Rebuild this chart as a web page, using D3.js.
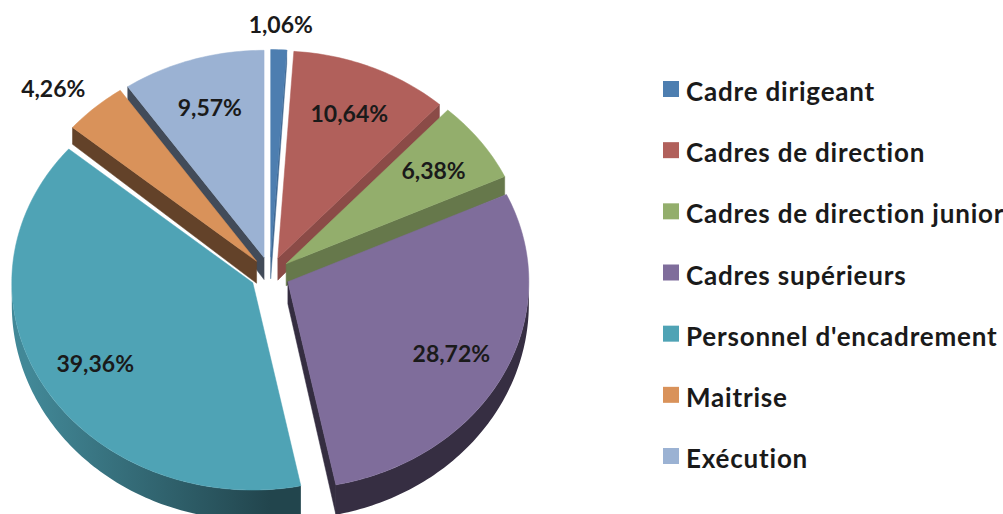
<!DOCTYPE html>
<html>
<head>
<meta charset="utf-8">
<script src="https://cdn.jsdelivr.net/npm/d3@7"></script>
<style>
  body { margin: 0; background: #fff; }
  svg text { font-family: Lato, "Open Sans", sans-serif; font-weight: bold; }
</style>
</head>
<body>
<svg id="chart" width="1003" height="514"></svg>
<script>
// Données
const categories = ["Cadre dirigeant", "Cadres de direction", "Cadres de direction junior",
  "Cadres supérieurs", "Personnel d'encadrement", "Maitrise", "Exécution"];
const values = [1.06, 10.64, 6.38, 28.72, 39.36, 4.26, 9.57];
const colors = ["#4D7EB0", "#B1605B", "#93AE6C", "#7F6D9B", "#4FA3B5", "#D9925A", "#9BB2D3"];

const fr = d3.formatLocale({ decimal: ",", thousands: " ", grouping: [3], currency: ["", "€"] });
const pct = v => fr.format(".2f")(v) + "%";

const svg = d3.select("#chart");
const defs = svg.append("defs");

// Géométrie du camembert 3D
const cx = 270, cy = 274, R = 241, k = 0.86, explode = 20, d0 = 22, d1 = 8;

function pt(a, r, off, z) {
  return [cx + off[0] + r * Math.sin(a),
          cy + off[1] - r * k * Math.cos(a) + z * (d0 - d1 * r * Math.cos(a) / R)];
}
function arcPts(a0, a1, off, z) {
  const n = Math.max(2, Math.ceil((a1 - a0) / (Math.PI / 180)));
  return d3.range(n + 1).map(i => pt(a0 + (a1 - a0) * i / n, R, off, z));
}
const line = d3.line();

const arcs = d3.pie().sort(null).value(d => d.value)
  (categories.map((c, i) => ({ name: c, value: values[i], color: colors[i] })));

arcs.forEach((d, i) => {
  d.mid = (d.startAngle + d.endAngle) / 2;
  d.off = [explode * Math.sin(d.mid), -explode * k * Math.cos(d.mid)];
  d.i = i;
});

// de l'arrière vers l'avant
const order = arcs.slice().sort((a, b) => -Math.cos(a.mid) + Math.cos(b.mid));

const g = svg.append("g");

function face(d, a) {
  return [pt(a, 0, d.off, 0), pt(a, R, d.off, 0), pt(a, R, d.off, 1), pt(a, 0, d.off, 1)];
}

order.forEach(d => {
  const base = d3.color(d.data.color);
  const a0 = d.startAngle, a1 = d.endAngle;

  // face radiale de début
  if (Math.sin(a0) < -1e-6) {
    const nx = -Math.cos(a0);
    const dk = Math.max(0.5, Math.min(2.5, 1.5 - 1.1 * nx));
    g.append("path").attr("d", line(face(d, a0)) + "Z")
      .attr("fill", base.darker(dk)).attr("stroke", base.darker(dk)).attr("stroke-width", 0.5);
  }
  // face radiale de fin
  if (Math.sin(a1) > 1e-6) {
    const nx = Math.cos(a1);
    const dk = Math.max(0.5, Math.min(2.5, 1.5 - 1.1 * nx));
    g.append("path").attr("d", line(face(d, a1)) + "Z")
      .attr("fill", base.darker(dk)).attr("stroke", base.darker(dk)).attr("stroke-width", 0.5);
  }
  // paroi extérieure
  const w0 = Math.max(a0, Math.PI / 2), w1 = Math.min(a1, 3 * Math.PI / 2);
  if (w1 > w0) {
    const gid = "wall" + d.i;
    const lg = defs.append("linearGradient").attr("id", gid)
      .attr("gradientUnits", "userSpaceOnUse")
      .attr("x1", cx - R).attr("x2", cx).attr("y1", 0).attr("y2", 0);
    lg.append("stop").attr("offset", 0).attr("stop-color", base.darker(0.5));
    lg.append("stop").attr("offset", 1).attr("stop-color", base.darker(2.4));
    const pts = arcPts(w0, w1, d.off, 0).concat(arcPts(w0, w1, d.off, 1).reverse());
    g.append("path").attr("d", line(pts) + "Z").attr("fill", `url(#${gid})`);
  }
  // dessus
  const top = [pt(a0, 0, d.off, 0)].concat(arcPts(a0, a1, d.off, 0));
  g.append("path").attr("d", line(top) + "Z")
    .attr("fill", base).attr("stroke", base).attr("stroke-width", 0.5);
});

// Étiquettes de données
const lbl = svg.append("g").style("font-size", "23px").attr("fill", "#1a1a1a");
arcs.forEach(d => {
  const outside = d.data.value < 5;
  const r = outside ? R + 30 : R * 0.76;
  const p = pt(d.mid, r, d.off, 0);
  const t = lbl.append("text")
    .attr("text-anchor", "middle").attr("dominant-baseline", "central")
    .attr("x", p[0]).attr("y", p[1])
    .text(pct(d.data.value));
  if (outside) {
    const hw = t.node().getComputedTextLength() / 2;
    t.attr("x", p[0] + Math.sin(d.mid) * hw);
  }
});

// Légende
const ly = d3.scalePoint().domain(categories).range([89, 456]);
const leg = svg.append("g");
categories.forEach((c, i) => {
  leg.append("rect").attr("x", 663).attr("y", ly(c) - 8)
    .attr("width", 16).attr("height", 16).attr("fill", colors[i]);
  leg.append("text").attr("x", 686).attr("y", ly(c) + 2)
    .attr("dominant-baseline", "central")
    .style("font-size", "26px").style("letter-spacing", "0.8px").attr("fill", "#1a1a1a")
    .text(c);
});
</script>
</body>
</html>
